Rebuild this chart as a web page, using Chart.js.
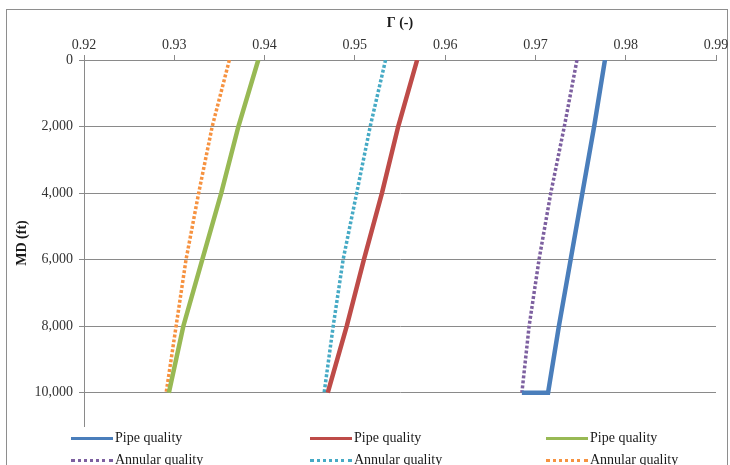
<!DOCTYPE html>
<html>
<head>
<meta charset="utf-8">
<script src="https://cdn.jsdelivr.net/npm/chart.js@4/dist/chart.umd.min.js"></script>
<style>
  body { margin:0; background:#fff; }
  #wrap { position:relative; width:730px; height:465px; overflow:hidden; font-family:"Liberation Serif", serif; }
  #frame { position:absolute; left:6px; top:9px; width:722px; height:470px; border:1px solid #8e8e8e; box-sizing:border-box; }
  #chart { position:absolute; left:0; top:0; }
  .lg { position:absolute; display:flex; align-items:center; font-size:14px; color:#1a1a1a; white-space:nowrap; }
  .lg span.mk { display:inline-block; width:42px; margin-right:2px; }
</style>
</head>
<body>
<div id="wrap">
  <div id="frame"></div>
  <canvas id="chart" width="730" height="465"></canvas>
  <div id="legend"></div>
</div>
<script>
/* depths (ft) the values were read at */
const depth = [0, 2000, 4000, 6000, 8000, 10000];
const depthPipe1 = [0, 2000, 4000, 6000, 8000, 10000, 10000]; // blue closes along the bottom
const yTicks = [0, 2000, 4000, 6000, 8000, 10000];

/* Γ values */
const pipe1 = [0.9777, 0.9765, 0.9752, 0.9739, 0.9726, 0.9714, 0.9685];
const pipe2 = [0.9569, 0.9548, 0.9530, 0.9510, 0.9491, 0.9470];
const pipe3 = [0.9393, 0.9371, 0.9352, 0.9331, 0.9310, 0.9294];
const ann1  = [0.9746, 0.9732, 0.9717, 0.9704, 0.9693, 0.9685];
const ann2  = [0.9534, 0.9517, 0.9502, 0.9487, 0.9476, 0.9466];
const ann3  = [0.9361, 0.9342, 0.9327, 0.9313, 0.9302, 0.9291];

const labels = ['Pipe quality', 'Pipe quality', 'Pipe quality',
                'Annular quality', 'Annular quality', 'Annular quality'];
const colors = ['#4A7EBB', '#BE4B48', '#98B954', '#7D60A0', '#46AAC5', '#F69240'];

const pts = (xs, ys) => xs.map((v, i) => ({x: v, y: ys[i]}));

const series = [
  pts(pipe1, depthPipe1), pts(pipe2, depth), pts(pipe3, depth),
  pts(ann1, depth), pts(ann2, depth), pts(ann3, depth)
];

const datasets = series.map((d, i) => {
  const dotted = i >= 3;
  return {
    label: labels[i],
    data: d,
    showLine: true,
    borderColor: colors[i],
    backgroundColor: colors[i],
    borderWidth: dotted ? 3.5 : 4.5,
    borderDash: dotted ? [3, 2] : [],
    pointRadius: 0,
    tension: 0
  };
});

const tickFont = {family: 'Liberation Serif', size: 14};
const titleFont = {family: 'Liberation Serif', size: 14, weight: 'bold'};

new Chart(document.getElementById('chart'), {
  type: 'scatter',
  data: {datasets},
  options: {
    responsive: false,
    animation: false,
    layout: {padding: {left: 0, top: 0, right: 14, bottom: 39}},
    plugins: {legend: {display: false}, tooltip: {enabled: false}},
    scales: {
      x: {
        position: 'top',
        min: 0.92, max: 0.99,
        afterFit: s => { s.height = 60; },
        ticks: {stepSize: 0.01, color: '#333', font: tickFont, padding: 1,
                callback: v => v.toFixed(2)},
        grid: {drawOnChartArea: false, drawTicks: true, tickLength: 5, color: '#8a8a8a'},
        border: {display: true, color: '#8a8a8a'},
        title: {display: true, text: 'Γ (-)', color: '#1a1a1a', font: titleFont,
                padding: {top: 15, bottom: 0}}
      },
      y: {
        reverse: true,
        min: 0, max: 11000,
        afterFit: s => { s.width = 84; },
        afterBuildTicks: s => { s.ticks = yTicks.map(v => ({value: v})); },
        ticks: {color: '#333', font: tickFont, padding: 6,
                callback: v => v.toLocaleString('en-US')},
        grid: {color: '#8a8a8a', tickLength: 5},
        border: {display: true, color: '#8a8a8a'},
        title: {display: true, text: 'MD (ft)', color: '#1a1a1a', font: titleFont,
                padding: {top: 14, bottom: 0}}
      }
    }
  }
});

// legend: two rows, three columns, built from the datasets
const colX = [71, 310, 546];
const rowY = [438, 460];
const lg = document.getElementById('legend');
datasets.forEach((ds, i) => {
  const el = document.createElement('div');
  el.className = 'lg';
  el.style.left = colX[i % 3] + 'px';
  el.style.top = (rowY[Math.floor(i / 3)] - 9) + 'px';
  el.style.height = '18px';
  const mk = document.createElement('span');
  mk.className = 'mk';
  mk.style.borderTop = i >= 3 ? `3px dotted ${ds.borderColor}` : `3px solid ${ds.borderColor}`;
  el.appendChild(mk);
  el.appendChild(document.createTextNode(ds.label));
  lg.appendChild(el);
});
</script>
</body>
</html>
